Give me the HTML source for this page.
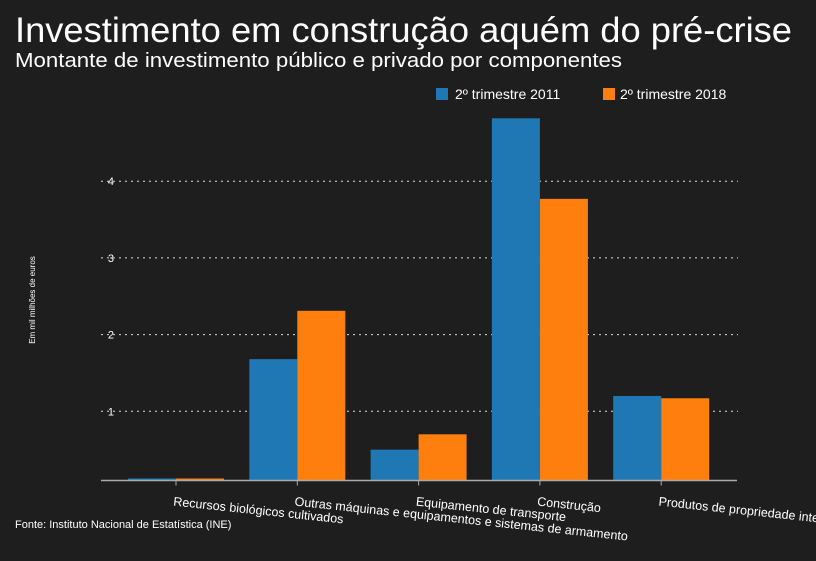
<!DOCTYPE html>
<html><head><meta charset="utf-8"><style>
body{margin:0;background:#1e1e1e;}
svg{display:block;font-family:"Liberation Sans",sans-serif;}
</style></head><body>
<svg width="816" height="561" viewBox="0 0 816 561">
<rect width="816" height="561" fill="#1e1e1e"/>
<text x="15" y="42" font-size="35" fill="#fff" textLength="777" lengthAdjust="spacingAndGlyphs">Investimento em construção aquém do pré-crise</text>
<text x="15" y="67" font-size="20" fill="#fff" textLength="607" lengthAdjust="spacingAndGlyphs">Montante de investimento público e privado por componentes</text>
<g>
<rect x="436" y="88" width="12" height="12" fill="#1f77b4"/>
<text x="455" y="99" font-size="14" fill="#fff">2º trimestre 2011</text>
<rect x="603" y="88" width="12" height="12" fill="#ff7f0e"/>
<text x="620" y="99" font-size="14" fill="#fff">2º trimestre 2018</text>
</g>
<text transform="translate(35,300) rotate(-90)" text-anchor="middle" font-size="8" fill="#fff">Em mil milhões de euros</text>
<g id="grid"></g>
<g id="bars"></g>
<g id="xaxis"></g>
<text x="15" y="528" font-size="11" fill="#fff">Fonte: Instituto Nacional de Estatística (INE)</text>
</svg>
<script>
const categories=["Recursos biológicos cultivados","Outras máquinas e equipamentos e sistemas de armamento","Equipamento de transporte","Construção","Produtos de propriedade intelectual"];
const series2011=[0.02,1.68,0.5,4.82,1.2];
const series2018=[0.03,2.31,0.7,3.77,1.17];
const yTicks=[1,2,3,4];
const NS="http://www.w3.org/2000/svg";
const svg=document.querySelector('svg');
const base=480.5, zeroY=488, unit=76.7, x0=176, step=121.3, bw=48;
const y=v=>zeroY-v*unit;
const xc=i=>x0+i*step;
function mk(t,a,p){const e=document.createElementNS(NS,t);for(const k in a)e.setAttribute(k,a[k]);p.appendChild(e);return e;}
const grid=document.getElementById('grid');
yTicks.forEach(t=>{
 const l=mk('line',{x1:101,x2:738,y1:y(t),y2:y(t),stroke:'#ddd','stroke-width':1,'stroke-dasharray':'2,4'},grid);
 
 
 const tx=mk('text',{x:114,y:y(t)+4,'text-anchor':'end','font-size':11,fill:'#fff'},grid);
 tx.textContent=t;
 
 
});
const bars=document.getElementById('bars');
categories.forEach((c,i)=>{
 [[series2011,'#1f77b4',-bw,'2011'],[series2018,'#ff7f0e',0,'2018']].forEach(([s,col,off,nm])=>{
  const top=Math.min(y(s[i]),base-2);
  const r=mk('rect',{x:xc(i)+off,y:top,width:bw,height:base-top,fill:col},bars);
  
  
 });
});
const xa=document.getElementById('xaxis');
const ax=mk('line',{x1:101,x2:737,y1:base,y2:base,stroke:'#aaa','stroke-width':1.5},xa);


categories.forEach((c,i)=>{
 const tk=mk('line',{x1:xc(i),x2:xc(i),y1:base,y2:base+5,stroke:'#aaa'},xa);
 
 
 const t=mk('text',{x:xc(i)-3,y:base+25,'font-size':12.5,fill:'#fff',transform:'rotate(6 '+(xc(i)-3)+' '+(base+25)+')'},xa);
 t.textContent=c;
 
 
});
</script>
</body></html>
